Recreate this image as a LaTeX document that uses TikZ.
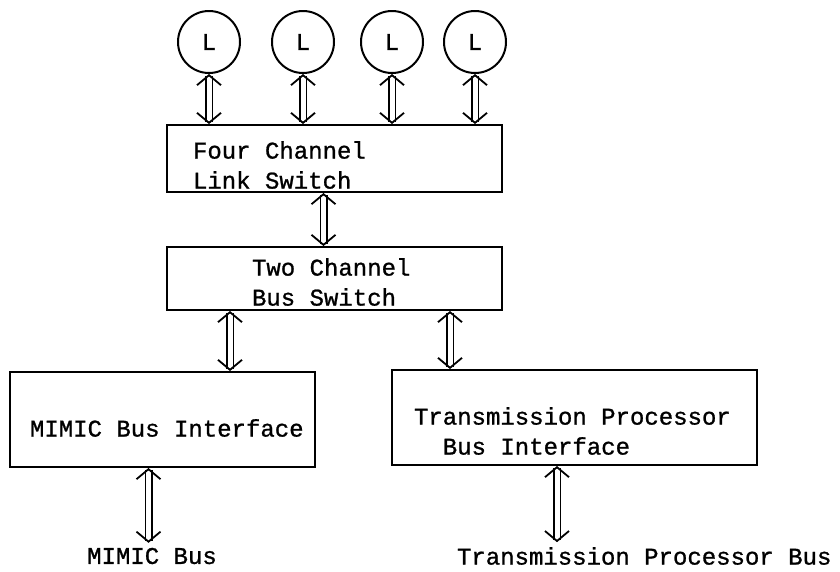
\documentclass[tikz,border=0pt]{standalone}
\usepackage{fontspec}
\setmonofont[FakeBold=1]{Liberation Mono}
\usetikzlibrary{arrows.meta}

\begin{document}
\begin{tikzpicture}[x=1pt, y=-1pt, line width=2pt,
    every node/.style={font=\ttfamily\fontsize{24}{30}\selectfont, inner sep=0pt},
    unit/.style={draw, rectangle},
    link/.style={double, double distance=5pt, line width=1.5pt,
      {Straight Barb[length=10pt, width=24pt, line width=1.8pt]}-{Straight Barb[length=10pt, width=24pt, line width=1.8pt]}}]
    \useasboundingbox (0,0) rectangle (840,571);

    % Line units on top
    \def\yL{42}
    \foreach \i/\x in {1/209,2/303,3/392,4/475} {
      \node[circle, draw, minimum size=62pt] (L\i) at (\x,\yL) {L};
    }

    % Boxes
    \node[unit, minimum width=335pt, minimum height=67pt] (four) at (334.5,158.5) {};
    \node[unit, minimum width=335pt, minimum height=63pt] (two) at (334.5,278.5) {};
    \node[unit, minimum width=305pt, minimum height=95pt] (mimic) at (162.5,419.5) {};
    \node[unit, minimum width=365pt, minimum height=95pt] (tp) at (574.5,417.5) {};

    % Box texts
    \node[anchor=west, align=left] (fourtxt) at (192,165) {Four Channel\\Link Switch};
    \node[anchor=west, align=left] (twotxt) at (251,282) {Two Channel\\Bus Switch};
    \node[anchor=west] (mimictxt) at (29,428) {MIMIC Bus Interface};
    \node[anchor=west, align=left] (tptxt) at (413,431) {Transmission Processor\\\ \ Bus Interface};

    % Bus labels
    \node (mbus) at (152,556) {MIMIC Bus};
    \node[anchor=west] (tpbus) at (456,556) {Transmission Processor Bus};

    % Links
    \foreach \i in {1,...,4} {
      \draw[link] (L\i.south) -- (L\i.south |- four.north);
    }
    \draw[link] ([xshift=-11pt]four.south) -- ([xshift=-11pt]two.north);
    \draw[link] ([xshift=-104.5pt]two.south) -- ([xshift=-104.5pt]two.south |- mimic.north);
    \draw[link] ([xshift=115.5pt]two.south) -- ([xshift=115.5pt]two.south |- tp.north);
    \draw[link] ([xshift=-14pt]mimic.south) -- ([xshift=-14pt,yshift=4pt]mimic.south |- mbus.north);
    \draw[link] ([xshift=-17.5pt]tp.south) -- ([xshift=-17.5pt,yshift=4pt]tp.south |- tpbus.north);
\end{tikzpicture}
\end{document}
